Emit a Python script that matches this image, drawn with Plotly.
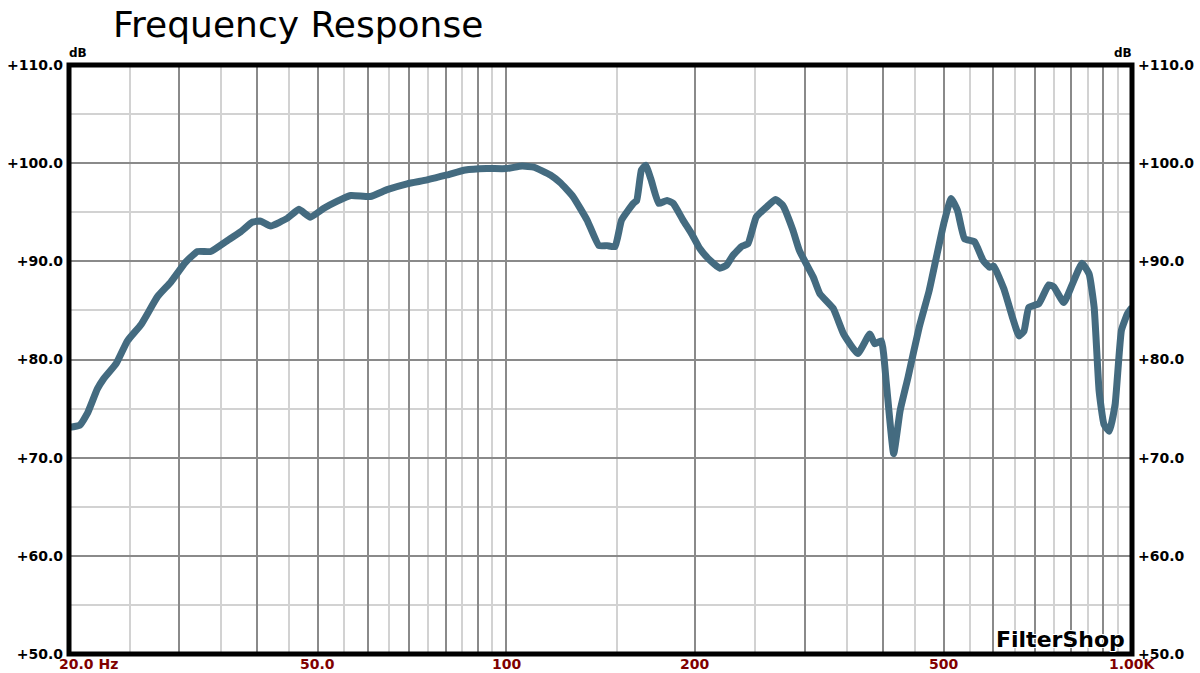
import numpy as np
import plotly.graph_objects as go

# ---- data ----
freq_hz = [20, 20.8, 21.4, 22.2, 22.7, 23.8, 24.8, 26.1, 27.7, 29.1, 30.7, 32.1, 33.7, 35.8, 37.6, 39.3,
           40.5, 42.0, 44.7, 46.6, 48.6, 51.1, 53.6, 56.4, 60.6, 64.5, 69.4, 74.7, 80.4, 86.0, 93.0, 100,
           106, 110.6, 117.6, 122, 127.8, 134.6, 140.6, 144.8, 149.2, 152.8, 159.6, 161.6, 164.4, 167,
           170.4, 175.2, 180.6, 184.8, 191.6, 197.8, 203.8, 211.6, 219.4, 224.8, 230.2, 237.6, 243.4,
           250.8, 260.2, 269.2, 276.6, 287, 294, 309.4, 317, 333, 346, 364.6, 381, 388, 397.6, 405, 416,
           426, 438.6, 457, 474, 485.6, 500, 514, 526, 540, 560, 578, 592, 601, 624, 644, 660, 672, 684,
           710, 736, 750, 778, 802, 832, 854, 870, 886, 902, 920, 940, 962, 984, 1000]
spl_db = [73.1, 73.3, 74.5, 77.0, 78.0, 79.6, 81.9, 83.6, 86.4, 87.9, 89.9, 91.0, 91.0, 92.1, 93.0, 94.0,
          94.1, 93.6, 94.4, 95.3, 94.5, 95.4, 96.1, 96.7, 96.6, 97.3, 97.9, 98.3, 98.8, 99.3, 99.45, 99.45,
          99.7, 99.6, 98.8, 98.0, 96.6, 94.2, 91.6, 91.6, 91.5, 94.2, 95.9, 96.2, 99.3, 99.8,
          98.3, 95.9, 96.2, 95.9, 94.2, 92.8, 91.3, 90.1, 89.3, 89.6, 90.6, 91.5, 91.8,
          94.5, 95.5, 96.3, 95.7, 93.2, 91.1, 88.4, 86.7, 85.2, 82.6, 80.6, 82.6, 81.6, 81.9, 77.5, 70.4,
          74.8, 78.2, 83.3, 87.0, 90.1, 93.8, 96.4, 95.2, 92.3, 92.0, 90.1, 89.4, 89.5, 87.2, 84.3, 82.4, 82.9, 85.3,
          85.7, 87.6, 87.4, 85.8, 87.6, 89.8, 88.7, 85.3, 76.8, 73.4, 72.7, 75.5, 83.0, 84.7, 85.3]
n = min(len(freq_hz), len(spl_db))
freq_hz, spl_db = freq_hz[:n], spl_db[:n]

x_major = [20, 30, 40, 50, 60, 70, 80, 90, 100, 200, 300, 400, 500, 600, 700, 800, 900, 1000]
x_minor = [25, 35, 45, 55, 65, 75, 85, 95, 150, 250, 350, 450, 550, 650, 750, 850, 950]
x_label_vals = [20, 50, 100, 200, 500, 1000]
x_label_text = ["20.0 Hz", "50.0", "100", "200", "500", "1.00K"]
y_major = [50, 60, 70, 80, 90, 100, 110]
y_major_text = ["+50.0", "+60.0", "+70.0", "+80.0", "+90.0", "+100.0", "+110.0"]
y_minor = [55, 65, 75, 85, 95, 105]

LINE_COL = "#446b80"
DARK_GRID = "#8a8a8a"
LIGHT_GRID = "#d2d2d2"
BOLD = "DejaVu Sans"

fig = go.Figure()
fig.add_trace(go.Scatter(x=freq_hz, y=spl_db, mode="lines",
                         line=dict(color=LINE_COL, width=7, shape="spline", smoothing=0.4),
                         hoverinfo="skip", showlegend=False))
# companion trace so the right-hand axis is drawn
fig.add_trace(go.Scatter(x=freq_hz, y=spl_db, mode="lines", yaxis="y2",
                         line=dict(color="rgba(0,0,0,0)", width=0),
                         hoverinfo="skip", showlegend=False))

fig.update_layout(
    width=1200, height=673,
    margin=dict(l=69, r=68, t=65, b=19, autoexpand=False),
    paper_bgcolor="white", plot_bgcolor="white",
    xaxis=dict(type="log", range=[np.log10(20), np.log10(1000)],
               tickmode="array", tickvals=x_major, showticklabels=False, ticks="",
               showgrid=True, gridcolor=DARK_GRID, gridwidth=1.5, zeroline=False,
               showline=False,
               minor=dict(tickmode="array", tickvals=x_minor, showgrid=True,
                          gridcolor=LIGHT_GRID, gridwidth=1.5, ticks="")),
    yaxis=dict(range=[50, 110], tickmode="array", tickvals=y_major, ticktext=y_major_text,
               ticks="", ticklabelstandoff=5,
               tickfont=dict(family=BOLD, size=14, color="black", weight="bold"),
               showgrid=True, gridcolor=DARK_GRID, gridwidth=1.5, zeroline=False, showline=False,
               minor=dict(tickmode="array", tickvals=y_minor, showgrid=True,
                          gridcolor=LIGHT_GRID, gridwidth=1.5, ticks="")),
    yaxis2=dict(range=[50, 110], overlaying="y", side="right", tickmode="array",
                tickvals=y_major, ticktext=y_major_text, ticks="", ticklabelstandoff=5,
                tickfont=dict(family=BOLD, size=14, color="black", weight="bold"),
                showgrid=False, zeroline=False, showline=False),
)

# plot border
fig.add_shape(type="rect", xref="paper", yref="paper", x0=0, x1=1, y0=0, y1=1,
              line=dict(color="black", width=5), layer="above")

annotations = []
for v, t in zip(x_label_vals, x_label_text):
    shift = 19 if v == x_label_vals[0] else 0
    annotations.append(dict(x=np.log10(v), y=0, xref="x", yref="paper", text=t,
                            showarrow=False, xanchor="center", yanchor="middle",
                            yshift=-10, xshift=shift,
                            font=dict(family=BOLD, size=14, color="#800000", weight="bold")))
annotations += [
    dict(x=0, y=1, xref="paper", yref="paper", text="dB", showarrow=False,
         xanchor="left", yanchor="middle", yshift=12, xshift=-2,
         font=dict(family=BOLD, size=12, color="black", weight="bold")),
    dict(x=1, y=1, xref="paper", yref="paper", text="dB", showarrow=False,
         xanchor="right", yanchor="middle", yshift=12, xshift=2,
         font=dict(family=BOLD, size=12, color="black", weight="bold")),
    dict(x=0, y=1, xref="paper", yref="paper", text="Frequency Response", showarrow=False,
         xanchor="left", yanchor="middle", xshift=42, yshift=41,
         font=dict(family="DejaVu Sans", size=36, color="black")),
    dict(x=1, y=0, xref="paper", yref="paper", text="FilterShop", showarrow=False,
         xanchor="right", yanchor="middle", xshift=-5, yshift=15,
         font=dict(family=BOLD, size=22, color="black", weight="bold",
                   shadow="-1px -1px 0 #fff, 1px -1px 0 #fff, -1px 1px 0 #fff, 1px 1px 0 #fff")),
]
fig.update_layout(annotations=annotations)

fig.write_html("out.html", config={"displayModeBar": False},
               post_script="document.body.style.margin='0';document.body.style.overflow='hidden';")
